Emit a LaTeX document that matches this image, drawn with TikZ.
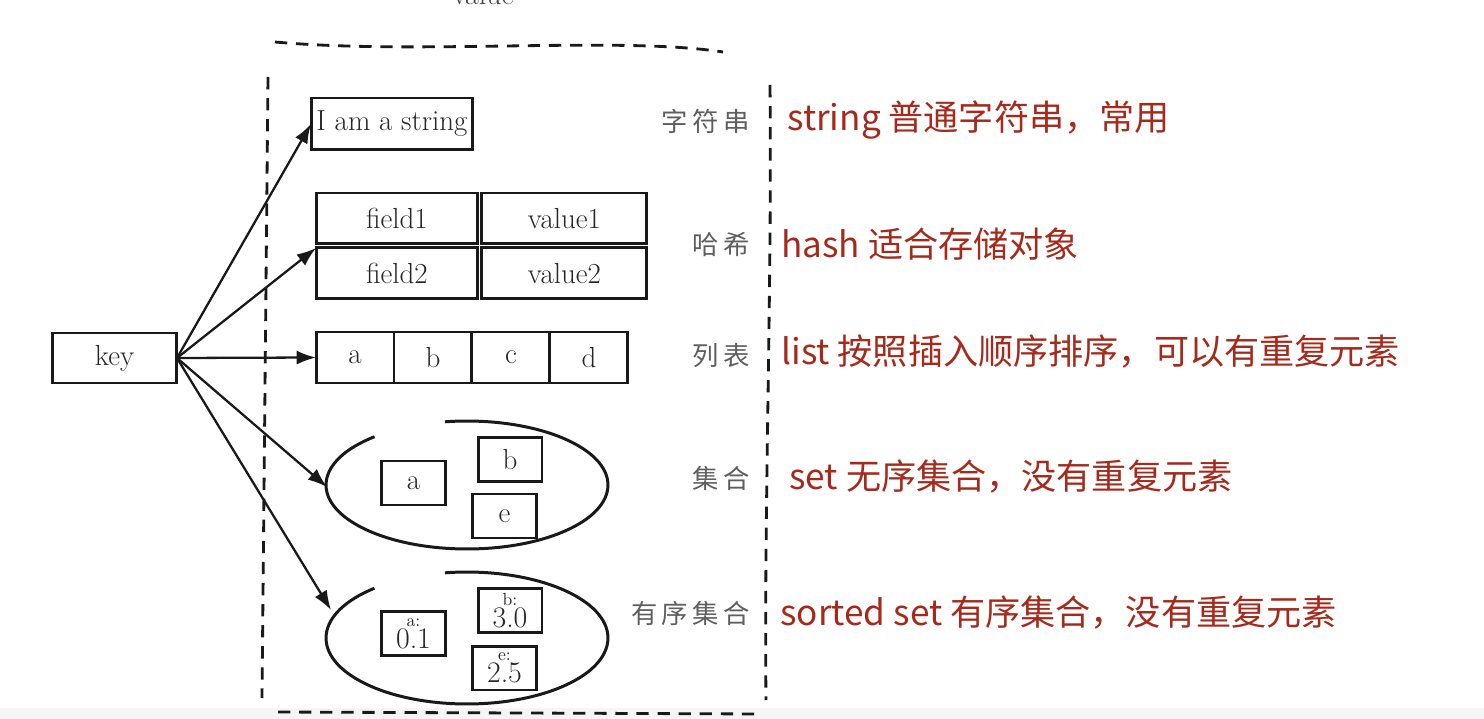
\documentclass[tikz,border=0pt]{standalone}
\usepackage{fontspec}
\newfontfamily\cjk{Noto Sans CJK SC}
\usetikzlibrary{arrows.meta,positioning}
\definecolor{notered}{RGB}{165,42,28}
\definecolor{penblack}{RGB}{25,25,25}
\definecolor{hintgray}{RGB}{95,95,95}

\begin{document}
\begin{tikzpicture}[
    x=0.02cm, y=-0.02cm,
    cell/.style={rectangle, draw=penblack, line width=1.7pt, outer sep=0pt, inner sep=0pt, font=\fontsize{16.5}{17}\selectfont, text=black!85},
    member/.style={cell, minimum width=1.28cm, minimum height=0.88cm},
    pair/.style={member, font=\fontsize{10}{10}\selectfont, align=center},
    typename/.style={font=\cjk\fontsize{15}{15}\selectfont, text=hintgray, anchor=east, inner sep=0pt},
    note/.style={font=\cjk\fontsize{20}{20}\selectfont, text=notered, anchor=west, inner sep=0pt},
    arrow/.style={-{Latex[length=11pt,width=8pt]}, line width=1.3pt, penblack},
    border/.style={dash pattern=on 7pt off 5pt, line width=1.6pt, penblack}
]
\useasboundingbox (0,0) rectangle (1484,719);
\fill[black!4] (0,708) rectangle (1484,719);

% Value frame
\node[font=\fontsize{17}{17}\selectfont, text=black!75] (vlabel) at (483,-6) {value};
\draw[border] (275,42) .. controls (420,55) and (620,36) .. (723,52);
\draw[border] (268,77) -- (262,698);
\draw[border] (770,85) .. controls (772,300) and (764,500) .. (766,700);
\draw[border] (278,712) -- (762,714);

% Key
\node[cell, minimum width=2.5cm, minimum height=1cm] (key) at (114.5,358) {key};

% String
\node[cell, minimum width=3.24cm, minimum height=1.04cm] (str) at (392,124) {I am a string};

% Hash
\node[cell, minimum width=3.24cm, minimum height=1.02cm] (field1) at (397,218.5) {field1};
\node[cell, minimum width=3.3cm, minimum height=1.02cm, right=0.08cm of field1] (value1) {value1};
\node[cell, minimum width=3.24cm, minimum height=1.02cm, below=0.08cm of field1] (field2) {field2};
\node[cell, minimum width=3.3cm, minimum height=1.02cm, right=0.08cm of field2] (value2) {value2};

% List
\node[cell, minimum width=1.56cm, minimum height=1.02cm] (la) at (355,357.5) {a};
\node[cell, minimum width=1.56cm, minimum height=1.02cm, right=0pt of la] (lb) {b};
\node[cell, minimum width=1.56cm, minimum height=1.02cm, right=0pt of lb] (lc) {c};
\node[cell, minimum width=1.56cm, minimum height=1.02cm, right=0pt of lc] (ld) {d};

% Set
\draw[penblack, line width=1.7pt] (467,485) ++(131:2.82cm and 1.28cm) arc[start angle=131, end angle=459, x radius=2.82cm, y radius=1.28cm];
\coordinate (setl) at (327,487);
\node[member] (sa) at (413.5,483) {a};
\node[member] (sb) at (510,459.5) {b};
\node[member] (se) at (504.5,516) {e};

% Sorted set
\draw[penblack, line width=1.7pt] (467,638) ++(131:2.82cm and 1.32cm) arc[start angle=131, end angle=459, x radius=2.82cm, y radius=1.32cm];
\coordinate (zsetl) at (331,610);
\node[pair] (za) at (413.5,633.5) {a:\\[0pt]{\fontsize{17}{17}\selectfont 0.1}};
\node[pair] (zb) at (510,610.5) {b:\\[0pt]{\fontsize{17}{17}\selectfont 3.0}};
\node[pair] (ze) at (504.5,668) {e:\\[0pt]{\fontsize{17}{17}\selectfont 2.5}};

% Arrows
\draw[arrow] (key.east) -- (str.west);
\draw[arrow] (key.east) -- (field2.north west);
\draw[arrow] (key.east) -- (la.west);
\draw[arrow] (key.east) -- (setl);
\draw[arrow] (key.east) -- (zsetl);

% Type names
\node[typename] (tstr) at (750,121) {字\,符\,串};
\node[typename] (thash) at (750,245) {哈\,希};
\node[typename] (tlist) at (750,356) {列\,表};
\node[typename] (tset) at (750,478) {集\,合};
\node[typename] (tzset) at (750,613) {有\,序\,集\,合};

% Notes
\node[note] (nstr) at (787,120) {string 普通字符串，常用};
\node[note] (nhash) at (781,244) {hash 适合存储对象};
\node[note] (nlist) at (781,352) {list 按照插入顺序排序，可以有重复元素};
\node[note] (nset) at (789,477) {set 无序集合，没有重复元素};
\node[note] (nzset) at (780,613) {sorted set 有序集合，没有重复元素};

\end{tikzpicture}
\end{document}
